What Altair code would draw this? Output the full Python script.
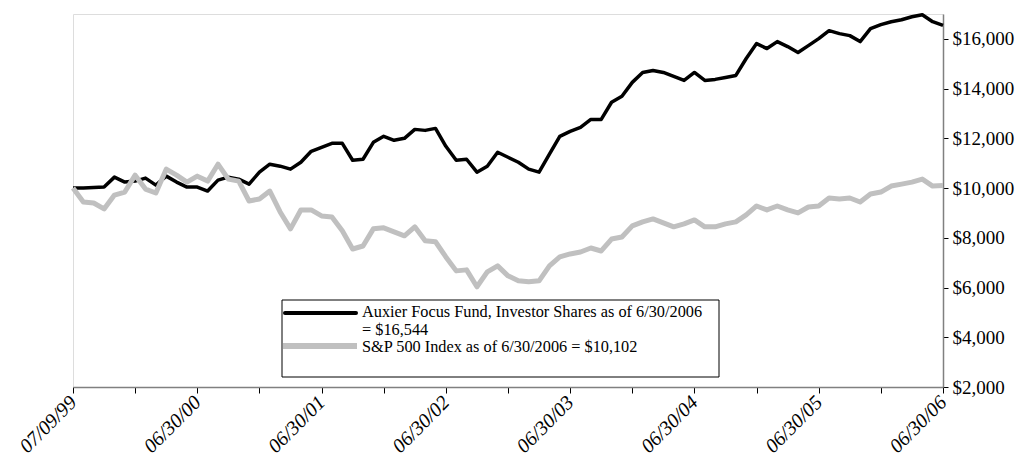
import json
import altair as alt
import pandas as pd

# month index 0 = 07/09/99 ... 84 = 06/30/06
auxier = [10000, 10000, 10020, 10040, 10440, 10240, 10280, 10400, 10120, 10480,
          10240, 10040, 10040, 9880, 10320, 10440, 10360, 10160, 10640, 10960,
          10880, 10760, 11040, 11480, 11640, 11800, 11800, 11120, 11160, 11840,
          12080, 11920, 12000, 12360, 12320, 12400, 11680, 11120, 11160, 10640,
          10880, 11440, 11240, 11040, 10760, 10640, 11360, 12080, 12280, 12440,
          12760, 12760, 13450, 13690, 14250, 14650, 14730, 14650, 14490, 14330,
          14650, 14330, 14370, 14450, 14530, 15210, 15810, 15610, 15890, 15690,
          15450, 15730, 16010, 16330, 16210, 16130, 15890, 16410, 16570, 16690,
          16770, 16890, 16970, 16690, 16544]
sp500 = [10000, 9440, 9400, 9160, 9720, 9840, 10520, 9960, 9800, 10760,
         10520, 10240, 10480, 10280, 10960, 10360, 10280, 9480, 9560, 9880,
         9040, 8360, 9120, 9120, 8880, 8840, 8280, 7550, 7670, 8360,
         8400, 8240, 8080, 8440, 7880, 7840, 7230, 6670, 6710, 6030,
         6630, 6870, 6470, 6270, 6230, 6270, 6870, 7230, 7350, 7430,
         7590, 7470, 7950, 8030, 8480, 8640, 8760, 8600, 8440, 8560,
         8720, 8440, 8440, 8560, 8640, 8920, 9280, 9120, 9280, 9120,
         9000, 9240, 9280, 9600, 9560, 9600, 9440, 9760, 9840, 10080,
         10160, 10240, 10360, 10080, 10102]
months = list(range(len(auxier)))

x_labels = ["07/09/99", "06/30/00", "06/30/01", "06/30/02",
            "06/30/03", "06/30/04", "06/30/05", "06/30/06"]
y_ticks = [2000, 4000, 6000, 8000, 10000, 12000, 14000, 16000]
legend_texts = ["Auxier Focus Fund, Investor Shares as of 6/30/2006",
                "= $16,544",
                "S&P 500 Index as of 6/30/2006 = $10,102"]

df_a = pd.DataFrame({"m": months, "v": auxier})
df_s = pd.DataFrame({"m": months, "v": sp500})

FONT = "Liberation Serif"
W, H = 870, 373

label_expr = ("datum.value % 12 === 0 ? " + json.dumps(x_labels) +
              "[datum.value / 12] : ''")

x_enc = alt.X("m:Q", scale=alt.Scale(domain=[0, 84], nice=False, zero=False),
              axis=alt.Axis(values=list(range(0, 85, 6)), labelExpr=label_expr,
                            labelAngle=315, labelAlign="right", labelBaseline="middle",
                            labelFont=FONT, labelFontStyle="italic", labelFontSize=20,
                            labelColor="#000", labelPadding=6, labelOverlap=False,
                            labelBound=False, tickSize=6, tickColor="#000",
                            domainColor="#808080", domainWidth=1.5, grid=False,
                            title=None))
y_enc = alt.Y("v:Q", scale=alt.Scale(domain=[2000, 17000], nice=False, zero=False),
              axis=alt.Axis(orient="right", values=y_ticks, format="$,d",
                            labelFont=FONT, labelFontSize=19, labelColor="#000",
                            labelPadding=4, tickSize=5, tickColor="#000",
                            domainColor="#808080", domainWidth=1.5, grid=False,
                            title=None))

line_a = alt.Chart(df_a).mark_line(color="#000000", strokeWidth=3.5,
                                   strokeJoin="round").encode(x=x_enc, y=y_enc)
line_s = alt.Chart(df_s).mark_line(color="#C0C0C0", strokeWidth=5,
                                   strokeJoin="round").encode(x="m:Q", y="v:Q")

# legend box (decoration)
box = alt.Chart(pd.DataFrame({"a": [0]})).mark_rect(
    fill="white", stroke="#000", strokeWidth=1).encode(
    x=alt.value(209), x2=alt.value(646), y=alt.value(286), y2=alt.value(363))
sym_a = alt.Chart(pd.DataFrame({"a": [0]})).mark_rule(
    color="#000", strokeWidth=4, strokeCap="round").encode(
    x=alt.value(212), x2=alt.value(283), y=alt.value(299))
sym_s = alt.Chart(pd.DataFrame({"a": [0]})).mark_rule(
    color="#C0C0C0", strokeWidth=6).encode(
    x=alt.value(210), x2=alt.value(284), y=alt.value(332))
txt_df = pd.DataFrame({"t": legend_texts, "yy": [298, 316, 333]})
txt = alt.Chart(txt_df).mark_text(
    align="left", baseline="middle", font=FONT, fontSize=16.3, color="#000").encode(
    x=alt.value(289), y=alt.Y("yy:Q", scale=None), text="t:N")

chart = alt.layer(line_a, line_s, box, sym_a, sym_s, txt).properties(
    width=W, height=H,
    autosize=alt.AutoSizeParams(type="none"),
    padding={"left": 65, "top": 6, "right": 72, "bottom": 78},
).configure_view(strokeWidth=0, stroke="transparent").configure(background="white")

chart.save("out.html", embed_options={"renderer": "svg", "actions": False})
